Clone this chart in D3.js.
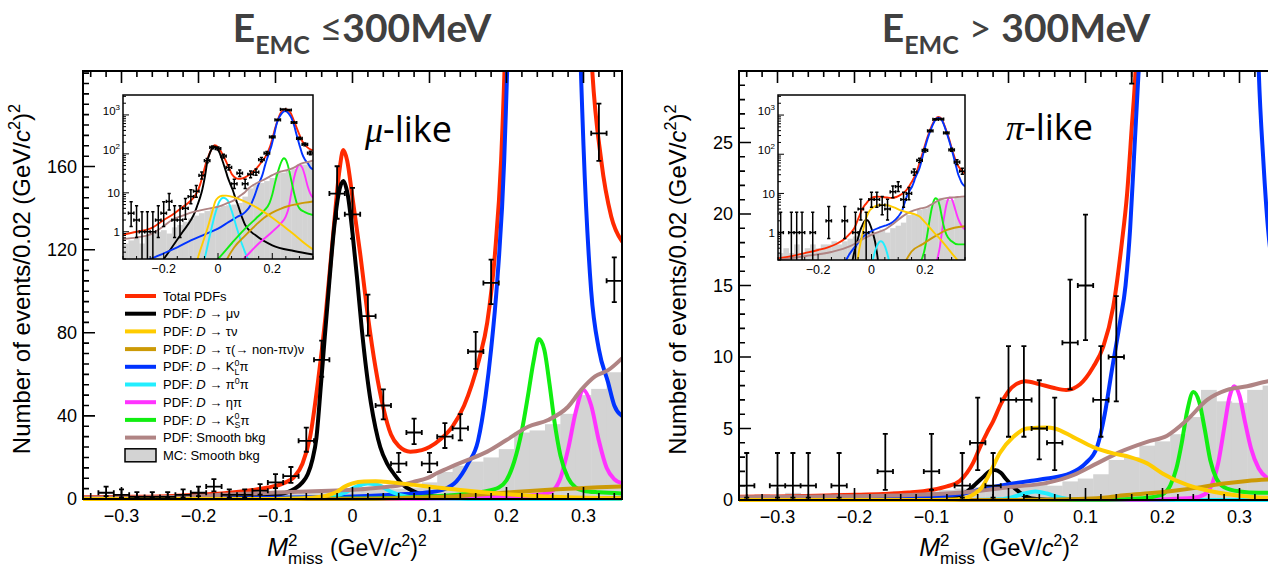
<!DOCTYPE html>
<html>
<head>
<meta charset="utf-8">
<script src="https://cdn.jsdelivr.net/npm/d3@7/dist/d3.min.js"></script>
<style>
  html, body { margin: 0; padding: 0; background: #fff; }
  svg { display: block; }
</style>
</head>
<body>
<svg id="chart" width="1268" height="566"></svg>
<script>
// ---------------- data ----------------
// bin centres of the M2miss histogram, (GeV/c^2)^2, bin width 0.02
const binCenters = [-0.34,-0.32,-0.30,-0.28,-0.26,-0.24,-0.22,-0.20,-0.18,-0.16,-0.14,-0.12,-0.10,-0.08,-0.06,-0.04,-0.02,
                    0.00,0.02,0.04,0.06,0.08,0.10,0.12,0.14,0.16,0.18,0.20,0.22,0.24,0.26,0.28,0.30,0.32,0.34];

// observed events per bin
const muLikeCounts = [0,3,2,1,1,1,2,3,6,2,2,4,8,11,28,67,147,
                      137,88,45,17,32,17,30,34,71,104,272,750,1390,1340,640,250,176,105];
const piLikeCounts = [1,0,1,1,1,0,1,0,0,2,0,0,2,0,1,4,1,
                      7,7,5,4,11,15,7,10,35,70,126,395,780,790,350,130,63,37];

// MC smooth background histogram
const muLikeMC = [0.5,0.6,0.7,0.5,0.8,0.9,1.0,1.1,0.9,1.3,1.5,1.8,2.2,2.6,3.0,3.4,3.8,
                  4.2,4.6,4.8,5.0,5.5,8,13,16,18,20,24,32,33,36,41,50,53,61];
const piLikeMC = [0.3,0.4,0.3,0.5,0.3,0.4,0.5,0.4,0.5,0.5,0.6,0.5,0.6,0.7,0.8,0.9,1.0,
                  1.1,1.0,1.2,1.0,1.3,1.5,1.8,2.8,3.0,3.8,4.1,4.6,5.8,7.7,6.9,6.8,7.7,8.0];

// fitted PDFs, [M2miss, events per bin] -- mu-like sample
const muTotalPDF = [[-0.35,0.85],[-0.3,1.0],[-0.25,1.2],[-0.2,2.0],[-0.16,3.0],[-0.13,4.3],[-0.11,5.5],[-0.09,7.5],[-0.075,11],[-0.065,17],[-0.055,30],[-0.045,56],[-0.035,88],[-0.025,128],[-0.017,158],[-0.012,168],[-0.007,163],[0.0,145],[0.01,118],[0.02,88],[0.03,63],[0.04,44],[0.05,31],[0.06,25.5],[0.075,22.8],[0.09,23.5],[0.1,25],[0.115,29],[0.13,35],[0.145,45],[0.155,55],[0.165,68],[0.175,85],[0.185,118],[0.193,163],[0.2,240],[0.21,440],[0.22,740],[0.235,1250],[0.25,1400],[0.265,1200],[0.28,700],[0.295,380],[0.31,215],[0.323,163],[0.336,136],[0.35,124]];
const muMuNuPDF = [[-0.35,0.03],[-0.25,0.08],[-0.2,0.2],[-0.16,0.5],[-0.13,1.0],[-0.1,2.0],[-0.085,3.2],[-0.075,5],[-0.065,8],[-0.058,12],[-0.052,19],[-0.047,29],[-0.041,55],[-0.036,78],[-0.03,105],[-0.024,130],[-0.018,147],[-0.012,153],[-0.006,146],[0.0,128],[0.006,106],[0.012,82],[0.018,62],[0.024,46],[0.03,34],[0.036,25],[0.045,17],[0.054,12],[0.065,7],[0.076,4.3],[0.09,2.2],[0.1,1.5],[0.14,0.8],[0.2,0.45],[0.28,0.32],[0.35,0.26]];
const muTauNuPDF = [[-0.35,0.01],[-0.1,0.03],[-0.075,0.2],[-0.05,0.7],[-0.035,1.5],[-0.02,3.5],[-0.01,6],[0.0,7.5],[0.015,8.4],[0.03,8.5],[0.05,8],[0.08,6.8],[0.11,5.5],[0.14,4.3],[0.17,3.2],[0.2,2.3],[0.23,1.6],[0.26,1.1],[0.29,0.75],[0.32,0.5],[0.35,0.35]];
const muTauNonPiPDF = [[-0.35,0.001],[-0.1,0.005],[0.0,0.06],[0.03,0.18],[0.06,0.4],[0.1,0.8],[0.14,1.5],[0.17,2.3],[0.2,3.1],[0.23,3.9],[0.26,4.6],[0.29,5.1],[0.32,5.6],[0.35,6.0]];
const muKLPiPDF = [[-0.35,0.12],[-0.3,0.16],[-0.25,0.2],[-0.2,0.28],[-0.15,0.4],[-0.1,0.6],[-0.05,0.85],[0.0,1.2],[0.04,1.8],[0.07,2.4],[0.1,3.2],[0.12,4.8],[0.135,8.5],[0.15,17],[0.163,28],[0.173,50],[0.18,72],[0.188,105],[0.197,163],[0.205,270],[0.215,550],[0.225,850],[0.235,1100],[0.247,1250],[0.26,1100],[0.27,850],[0.28,550],[0.29,300],[0.3,170],[0.31,100],[0.32,72],[0.332,56],[0.34,45],[0.35,40]];
const muPi0PiPDF = [[-0.35,0.01],[-0.1,0.05],[-0.05,0.2],[-0.03,0.8],[-0.01,3],[0.005,6],[0.02,7.5],[0.035,6.5],[0.05,3.5],[0.07,1.2],[0.09,0.45],[0.11,0.2],[0.15,0.06],[0.35,0.01]];
const muEtaPiPDF = [[-0.35,0.01],[0.05,0.1],[0.1,0.22],[0.15,0.5],[0.2,1.0],[0.23,1.6],[0.25,2.5],[0.26,4],[0.27,10],[0.28,24],[0.29,42],[0.3,52.5],[0.31,45],[0.32,28],[0.33,15],[0.34,9.5],[0.35,7.5]];
const muKSPiPDF = [[-0.35,0.02],[-0.1,0.05],[0.0,0.2],[0.05,0.5],[0.1,1.2],[0.14,2.2],[0.17,3.5],[0.19,5.5],[0.2,9],[0.21,18],[0.22,33],[0.228,50],[0.235,66],[0.242,77],[0.249,72],[0.256,55],[0.262,38],[0.27,21],[0.28,10],[0.29,5.5],[0.3,4],[0.32,3.2],[0.35,2.7]];
const muSmoothPDF = [[-0.35,0.65],[-0.3,0.72],[-0.25,0.85],[-0.2,1.4],[-0.17,2.0],[-0.13,2.6],[-0.1,3.1],[-0.07,3.5],[-0.03,4.0],[0.0,4.4],[0.03,5.3],[0.063,6.7],[0.08,8.3],[0.097,10],[0.11,12.5],[0.128,15.5],[0.15,18.8],[0.175,22.8],[0.2,28.4],[0.228,34.8],[0.254,38],[0.28,44.4],[0.297,52.5],[0.315,59],[0.332,62],[0.35,67.7]];

// fitted PDFs -- pi-like sample
const piTotalPDF = [[-0.35,0.22],[-0.3,0.25],[-0.25,0.3],[-0.2,0.36],[-0.163,0.42],[-0.13,0.52],[-0.1,0.7],[-0.08,0.95],[-0.063,1.35],[-0.054,1.9],[-0.046,2.6],[-0.037,3.7],[-0.028,4.7],[-0.02,5.5],[-0.01,6.7],[0.0,7.6],[0.01,8.1],[0.022,8.3],[0.04,8.1],[0.058,7.85],[0.075,7.7],[0.093,8.1],[0.11,9.3],[0.123,10.7],[0.136,13.5],[0.147,17.9],[0.154,21.4],[0.16,26],[0.165,30],[0.18,60],[0.195,130],[0.21,280],[0.225,520],[0.24,800],[0.25,900],[0.262,800],[0.275,500],[0.29,250],[0.305,110],[0.32,57],[0.335,40],[0.35,32]];
const piMuNuPDF = [[-0.35,0.002],[-0.15,0.01],[-0.1,0.04],[-0.075,0.15],[-0.063,0.35],[-0.054,0.58],[-0.043,1.1],[-0.033,1.6],[-0.025,2.0],[-0.018,2.1],[-0.01,1.9],[-0.003,1.45],[0.006,0.93],[0.013,0.6],[0.019,0.35],[0.03,0.1],[0.05,0.02],[0.1,0.005],[0.35,0.001]];
const piTauNuPDF = [[-0.35,0.001],[-0.1,0.005],[-0.07,0.03],[-0.055,0.15],[-0.045,0.4],[-0.035,0.85],[-0.024,1.9],[-0.011,3.3],[0.006,4.4],[0.024,5.0],[0.05,5.07],[0.06,5.0],[0.084,4.4],[0.11,3.7],[0.136,3.26],[0.158,3.0],[0.18,2.56],[0.2,1.86],[0.232,1.05],[0.266,0.58],[0.3,0.3],[0.337,0.15],[0.35,0.12]];
const piTauNonPiPDF = [[-0.35,0.001],[0.0,0.005],[0.05,0.02],[0.1,0.08],[0.13,0.2],[0.15,0.33],[0.19,0.5],[0.22,0.68],[0.25,0.9],[0.28,1.15],[0.31,1.33],[0.35,1.46]];
const piKLPiPDF = [[-0.35,0.04],[-0.2,0.08],[-0.1,0.18],[-0.08,0.3],[-0.06,0.45],[-0.03,0.8],[0.0,1.1],[0.03,1.35],[0.05,1.5],[0.08,1.86],[0.1,2.56],[0.115,3.7],[0.125,6.0],[0.134,9],[0.145,12.5],[0.152,15],[0.158,19],[0.163,24],[0.168,29],[0.172,33],[0.18,45],[0.195,110],[0.21,250],[0.225,480],[0.24,760],[0.25,850],[0.262,760],[0.275,480],[0.29,230],[0.305,100],[0.318,45],[0.325,30],[0.331,23.7],[0.337,19],[0.35,15]];
const piPi0PiPDF = [[-0.35,0.001],[-0.05,0.005],[-0.01,0.05],[0.005,0.2],[0.02,0.45],[0.035,0.6],[0.05,0.45],[0.065,0.2],[0.08,0.06],[0.12,0.01],[0.35,0.001]];
const piEtaPiPDF = [[-0.35,0.001],[0.15,0.01],[0.2,0.05],[0.24,0.15],[0.255,0.4],[0.265,1.2],[0.272,2.5],[0.28,5],[0.287,7.2],[0.293,7.95],[0.3,7.3],[0.307,5.5],[0.315,3.6],[0.325,2.2],[0.337,1.5],[0.35,1.2]];
const piKSPiPDF = [[-0.35,0.001],[0.1,0.01],[0.15,0.05],[0.18,0.15],[0.2,0.4],[0.21,1.0],[0.218,2.2],[0.225,4],[0.232,6.2],[0.24,7.56],[0.248,6.8],[0.255,4.9],[0.262,2.8],[0.27,1.5],[0.28,0.9],[0.3,0.6],[0.325,0.5],[0.35,0.5]];
const piSmoothPDF = [[-0.35,0.2],[-0.25,0.25],[-0.15,0.32],[-0.08,0.45],[-0.037,0.65],[0.006,0.93],[0.05,1.2],[0.084,1.74],[0.115,2.56],[0.145,3.37],[0.18,4.07],[0.206,4.5],[0.232,5.6],[0.258,7.0],[0.284,7.7],[0.31,7.95],[0.337,8.3],[0.35,8.4]];

// axis ticks
const xTickValues = [-0.3,-0.2,-0.1,0,0.1,0.2,0.3];
const muYTicks = [0,40,80,120,160];
const piYTicks = [0,5,10,15,20,25];
const insetXTicks = [-0.2,0,0.2];
const insetYTicks = [1,10,100,1000];

// ---------------- styles ----------------
const AXIS_FONT = "'Liberation Sans', Arial, Helvetica, sans-serif";
const COL = {
  total: "#ff2a00", muNu: "#000000", tauNu: "#ffcc00", tauNonPi: "#cc9a06",
  klPi: "#0033ff", pi0Pi: "#22eeff", etaPi: "#ff33ff", ksPi: "#11ee11",
  smooth: "#b08484", mc: "#d3d3d3"
};

const svg = d3.select("#chart");
const defs = svg.append("defs");

// Poisson 68% interval (Wilson-Hilferty form of the Garwood limits)
function poissonInterval(n) {
  const lo = n * Math.pow(1 - 1 / (9 * n) - 1 / (3 * Math.sqrt(n)), 3);
  const m = n + 1;
  const hi = m * Math.pow(1 - 1 / (9 * m) + 1 / (3 * Math.sqrt(m)), 3);
  return [lo, hi];
}

function drawPoints(g, x, y, counts, opt) {
  let d = "";
  binCenters.forEach((c, i) => {
    const n = counts[i];
    if (!(n > 0)) return;
    const [lo, hi] = poissonInterval(n);
    const yc = y(n), ylo = y(Math.max(lo, opt.floor)), yhi = y(hi);
    const xa = x(c - 0.01), xb = x(c + 0.01), xc = x(c), k = opt.cap;
    d += `M${xa},${yc}H${xb}M${xc},${ylo}V${yhi}`;
    d += `M${xc - k},${yhi}H${xc + k}`;
    if (lo > opt.floor) d += `M${xc - k},${ylo}H${xc + k}`;
    d += `M${xa},${yc - k}V${yc + k}M${xb},${yc - k}V${yc + k}`;
  });
  g.append("path").attr("d", d).attr("fill", "none")
    .attr("stroke", "#000").attr("stroke-width", opt.lw);
}

// rich text: segments with optional italic / superscript / subscript
function richText(sel, segs, size) {
  let off = 0;
  segs.forEach(s => {
    const target = s.sup ? -0.42 * size : s.sub ? 0.3 * size : 0;
    const ts = sel.append("tspan").text(s.t).attr("dy", (target - off).toFixed(2));
    off = target;
    if (s.sup || s.sub) ts.attr("font-size", (s.size || 0.68 * size));
    else if (s.size) ts.attr("font-size", s.size);
    if (s.it) ts.attr("font-style", "italic");
    if (s.dx) ts.attr("dx", s.dx);
    if (s.font) ts.attr("font-family", s.font);
    if (s.weight) ts.attr("font-weight", s.weight);
  });
}

function drawPanel(cfg) {
  const g = svg.append("g");
  const x = d3.scaleLinear().domain([-0.35, 0.35]).range([cfg.left, cfg.right]);
  const y = d3.scaleLinear().domain([0, cfg.ymax]).range([cfg.bottom, cfg.top]);

  const cid = cfg.id + "-clip";
  defs.append("clipPath").attr("id", cid).append("rect")
    .attr("x", cfg.left).attr("y", cfg.top)
    .attr("width", cfg.right - cfg.left).attr("height", cfg.bottom - cfg.top + 3);
  const plot = g.append("g").attr("clip-path", `url(#${cid})`);

  // MC smooth background histogram
  plot.append("g").selectAll("rect")
    .data(binCenters.map((c, i) => ({ c, v: cfg.mc[i] })))
    .join("rect")
    .attr("x", d => x(d.c - 0.01))
    .attr("width", d => x(d.c + 0.01) - x(d.c - 0.01) + 0.4)
    .attr("y", d => y(d.v))
    .attr("height", d => y(0) - y(d.v))
    .attr("fill", COL.mc);

  const line = d3.line().x(d => x(d[0])).y(d => y(d[1])).curve(d3.curveMonotoneX);
  cfg.curves.forEach(c => {
    plot.append("path").attr("d", line(c.data)).attr("fill", "none")
      .attr("stroke", c.color).attr("stroke-width", 4)
      .attr("stroke-linejoin", "round").attr("stroke-linecap", "round");
  });

  drawPoints(plot, x, y, cfg.counts, { lw: 1.8, cap: 2.5, floor: 0 });

  // frame
  g.append("rect").attr("x", cfg.left).attr("y", cfg.top)
    .attr("width", cfg.right - cfg.left).attr("height", cfg.bottom - cfg.top)
    .attr("fill", "none").attr("stroke", "#000").attr("stroke-width", 2);

  // x ticks, bottom and top
  let td = "";
  d3.range(-17, 18).forEach(k => {
    const v = k * 0.02, px = x(v);
    const major = xTickValues.some(t => Math.abs(t - v) < 1e-9);
    const L = major ? 12 : 6;
    td += `M${px},${cfg.bottom}V${cfg.bottom - L}M${px},${cfg.top}V${cfg.top + L}`;
  });
  // y ticks, left side
  d3.range(0, cfg.ymax, cfg.yMinor).forEach(v => {
    if (v === 0) return;
    const major = cfg.yTicks.includes(v);
    const L = major ? 12 : 6;
    td += `M${cfg.left},${y(v)}H${cfg.left + L}`;
  });
  g.append("path").attr("d", td).attr("stroke", "#000").attr("stroke-width", 1.6).attr("fill", "none");

  const fmt = v => (Math.abs(v) < 1e-9 ? "0" : d3.format(".1f")(v));
  g.append("g").selectAll("text").data(xTickValues).join("text")
    .attr("x", d => x(d)).attr("y", cfg.bottom + 23)
    .attr("text-anchor", "middle").attr("font-family", AXIS_FONT).attr("font-size", 18)
    .text(fmt);
  g.append("g").selectAll("text").data(cfg.yTicks).join("text")
    .attr("x", cfg.left - 6).attr("y", d => y(d)).attr("dy", "0.36em")
    .attr("text-anchor", "end").attr("font-family", AXIS_FONT).attr("font-size", 18)
    .text(d => d);

  // y title
  const yt = g.append("text")
    .attr("transform", `translate(${cfg.yTitleX},${(cfg.top + cfg.bottom) / 2 - 6}) rotate(-90)`)
    .attr("text-anchor", "middle").attr("font-family", AXIS_FONT).attr("font-size", 24);
  richText(yt, [{ t: "Number of events/0.02 (GeV/" }, { t: "c", it: true }, { t: "2", sup: true },
                { t: ")" }, { t: "2", sup: true }], 24);

  // x title: M^2_miss (GeV/c^2)^2
  const xa = g.append("text").attr("x", cfg.parenX - 7).attr("y", 556)
    .attr("text-anchor", "end").attr("font-family", AXIS_FONT).attr("font-size", 25);
  richText(xa, [{ t: "M", it: true }, { t: "2", sup: true, size: 17 },
                { t: "miss", sub: true, size: 17, dx: -9.5 }], 25);
  const xb = g.append("text").attr("x", cfg.parenX).attr("y", 556)
    .attr("font-family", AXIS_FONT).attr("font-size", 23);
  richText(xb, [{ t: "(GeV/" }, { t: "c", it: true }, { t: "2", sup: true }, { t: ")" }, { t: "2", sup: true }], 23);

  return { x, y };
}

function drawInset(cfg) {
  const { l, r, t, b } = cfg;
  const g = svg.append("g");
  const x = d3.scaleLinear().domain([-0.35, 0.35]).range([l, r]);
  const y = d3.scaleLog().domain([0.2, 3250]).range([b, t]);

  g.append("rect").attr("x", l).attr("y", t).attr("width", r - l).attr("height", b - t).attr("fill", "#fff");
  const cid = cfg.id + "-clip";
  defs.append("clipPath").attr("id", cid).append("rect")
    .attr("x", l).attr("y", t).attr("width", r - l).attr("height", b - t);
  const p = g.append("g").attr("clip-path", `url(#${cid})`);

  p.append("g").selectAll("rect")
    .data(binCenters.map((c, i) => ({ c, v: cfg.mc[i] })).filter(d => d.v > 0.2))
    .join("rect")
    .attr("x", d => x(d.c - 0.01))
    .attr("width", d => x(d.c + 0.01) - x(d.c - 0.01) + 0.3)
    .attr("y", d => y(d.v))
    .attr("height", d => b - y(d.v))
    .attr("fill", COL.mc);

  const line = d3.line().x(d => x(d[0])).y(d => y(d[1])).curve(d3.curveMonotoneX);
  cfg.curves.forEach(c => {
    p.append("path").attr("d", line(c.data)).attr("fill", "none")
      .attr("stroke", c.color).attr("stroke-width", 1.9).attr("stroke-linejoin", "round");
  });
  drawPoints(p, x, y, cfg.counts, { lw: 1.5, cap: 1.6, floor: 0.2 });

  g.append("rect").attr("x", l).attr("y", t).attr("width", r - l).attr("height", b - t)
    .attr("fill", "none").attr("stroke", "#000").attr("stroke-width", 1.5);

  let td = "";
  d3.range(-7, 8).forEach(k => {
    const v = k * 0.05, px = x(v);
    const major = insetXTicks.some(tk => Math.abs(tk - v) < 1e-9);
    td += `M${px},${b}V${b - (major ? 6 : 3)}`;
  });
  [0.1, 1, 10, 100, 1000].forEach(dec => {
    d3.range(1, 10).forEach(m => {
      const v = dec * m;
      if (v < 0.2 || v > 3250) return;
      td += `M${l},${y(v)}H${l + (m === 1 ? 6 : 3)}`;
    });
  });
  g.append("path").attr("d", td).attr("stroke", "#000").attr("stroke-width", 1).attr("fill", "none");

  g.append("g").selectAll("text").data(insetXTicks).join("text")
    .attr("x", d => x(d)).attr("y", b + 14).attr("text-anchor", "middle")
    .attr("font-family", AXIS_FONT).attr("font-size", 12.5)
    .text(d => (d === 0 ? "0" : d3.format(".1f")(d)));
  insetYTicks.forEach(v => {
    const tx = g.append("text").attr("x", l - 3).attr("y", y(v)).attr("dy", "0.36em")
      .attr("text-anchor", "end").attr("font-family", AXIS_FONT).attr("font-size", 11.5);
    if (v < 100) tx.text(String(v));
    else richText(tx, [{ t: "10" }, { t: String(Math.round(Math.log10(v))), sup: true, size: 8 }], 11.5);
  });
}

// ---------------- panels ----------------
const muCurves = [
  { data: muTotalPDF, color: COL.total },
  { data: muMuNuPDF, color: COL.muNu },
  { data: muKLPiPDF, color: COL.klPi },
  { data: muPi0PiPDF, color: COL.pi0Pi },
  { data: muEtaPiPDF, color: COL.etaPi },
  { data: muKSPiPDF, color: COL.ksPi },
  { data: muSmoothPDF, color: COL.smooth },
  { data: muTauNonPiPDF, color: COL.tauNonPi },
  { data: muTauNuPDF, color: COL.tauNu }
];
const piCurves = [
  { data: piTotalPDF, color: COL.total },
  { data: piMuNuPDF, color: COL.muNu },
  { data: piKLPiPDF, color: COL.klPi },
  { data: piPi0PiPDF, color: COL.pi0Pi },
  { data: piEtaPiPDF, color: COL.etaPi },
  { data: piKSPiPDF, color: COL.ksPi },
  { data: piSmoothPDF, color: COL.smooth },
  { data: piTauNonPiPDF, color: COL.tauNonPi },
  { data: piTauNuPDF, color: COL.tauNu }
];

drawPanel({ id: "mu", left: 83, right: 622, top: 71, bottom: 499, ymax: 206, yTicks: muYTicks, yMinor: 5,
            counts: muLikeCounts, mc: muLikeMC, curves: muCurves, yTitleX: 30, parenX: 330 });
drawPanel({ id: "pi", left: 739, right: 1278, top: 71, bottom: 500, ymax: 30, yTicks: piYTicks, yMinor: 1,
            counts: piLikeCounts, mc: piLikeMC, curves: piCurves, yTitleX: 686, parenX: 982 });

drawInset({ id: "muIn", l: 123, r: 313, t: 95, b: 259, counts: muLikeCounts, mc: muLikeMC, curves: muCurves });
drawInset({ id: "piIn", l: 778, r: 965, t: 95, b: 260, counts: piLikeCounts, mc: piLikeMC, curves: piCurves });

// ---------------- sample labels ----------------
function sampleLabel(x, y, greek) {
  const t = svg.append("text").attr("x", x).attr("y", y).attr("font-size", 36);
  t.append("tspan").attr("font-family", "'Liberation Serif', 'DejaVu Serif', serif")
    .attr("font-style", "italic").text(greek);
  t.append("tspan").attr("font-family", "'Open Sans', sans-serif").text("-like");
}
sampleLabel(365, 142, "μ");
sampleLabel(1006, 140, "π");

// ---------------- titles ----------------
function panelTitle(cx, rel) {
  const t = svg.append("text").attr("x", cx).attr("y", 42).attr("text-anchor", "middle")
    .attr("font-family", "Lato, 'Open Sans', sans-serif").attr("font-weight", 700)
    .attr("font-size", 39).attr("fill", "#404040");
  richText(t, [{ t: "E" }, { t: "EMC", sub: true, size: 25 },
               { t: rel, weight: 400 }, { t: "300MeV" }], 39);
}
panelTitle(362, " ≤");
panelTitle(1016, " > ");

// ---------------- legend ----------------
const legendEntries = [
  { color: COL.total, segs: [{ t: "Total PDFs" }] },
  { color: COL.muNu, segs: [{ t: "PDF: " }, { t: "D", it: true }, { t: " → μν" }] },
  { color: COL.tauNu, segs: [{ t: "PDF: " }, { t: "D", it: true }, { t: " → τν" }] },
  { color: COL.tauNonPi, segs: [{ t: "PDF: " }, { t: "D", it: true }, { t: " → τ(→ non-πν)ν" }] },
  { color: COL.klPi, segs: [{ t: "PDF: " }, { t: "D", it: true }, { t: " → K" }, { t: "0", sup: true },
                            { t: "L", sub: true, dx: -4.9 }, { t: "π" }] },
  { color: COL.pi0Pi, segs: [{ t: "PDF: " }, { t: "D", it: true }, { t: " → π" }, { t: "0", sup: true }, { t: "π" }] },
  { color: COL.etaPi, segs: [{ t: "PDF: " }, { t: "D", it: true }, { t: " → ηπ" }] },
  { color: COL.ksPi, segs: [{ t: "PDF: " }, { t: "D", it: true }, { t: " → K" }, { t: "0", sup: true },
                            { t: "S", sub: true, dx: -4.9 }, { t: "π" }] },
  { color: COL.smooth, segs: [{ t: "PDF: Smooth bkg" }] },
  { color: null, segs: [{ t: "MC: Smooth bkg" }] }
];
const lg = svg.append("g");
legendEntries.forEach((e, i) => {
  const cy = 296 + i * 17.7;
  if (e.color) {
    lg.append("line").attr("x1", 125).attr("x2", 156).attr("y1", cy).attr("y2", cy)
      .attr("stroke", e.color).attr("stroke-width", 4);
  } else {
    lg.append("rect").attr("x", 125).attr("y", cy - 6.5).attr("width", 31).attr("height", 13)
      .attr("fill", COL.mc).attr("stroke", "#000").attr("stroke-width", 1.5);
  }
  const t = lg.append("text").attr("x", 163).attr("y", cy + 4.6)
    .attr("font-family", AXIS_FONT).attr("font-size", 13);
  richText(t, e.segs, 13);
});
</script>
</body>
</html>
